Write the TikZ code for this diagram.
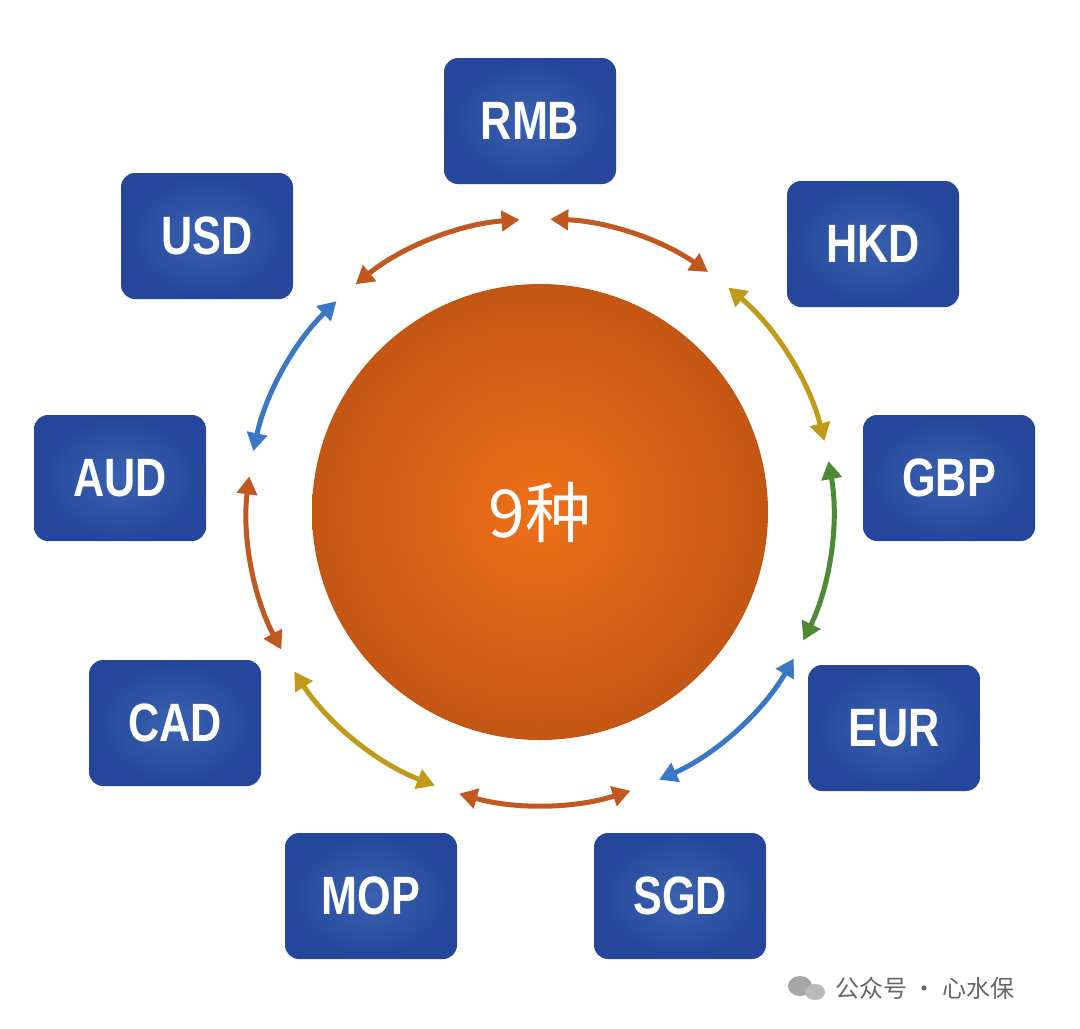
\documentclass[tikz,border=0pt]{standalone}
\usepackage{fontspec}
\setmainfont{Liberation Sans}[FakeStretch=0.8]
\newfontfamily\cjk{Noto Sans CJK SC}
\usetikzlibrary{arrows.meta,shadings}
\definecolor{bxin}{HTML}{3A62B0}
\definecolor{bxout}{HTML}{25469A}
\definecolor{orA}{HTML}{C0581F}
\definecolor{gold}{HTML}{C09A18}
\definecolor{grn}{HTML}{4E8A35}
\definecolor{blu}{HTML}{3A78C6}
\begin{document}
\begin{tikzpicture}[x=1pt,y=-1pt,
  box/.style={rectangle,rounded corners=14pt,minimum width=172pt,minimum height=126pt,
    inner color=bxin,outer color=bxout,text=white,font=\bfseries\fontsize{54}{54}\selectfont},
  arr/.style={line width=5pt,{Triangle[length=18pt,width=20pt]}-{Triangle[length=18pt,width=20pt]}}]
\useasboundingbox (0,0) rectangle (1080,1029);
\fill[white] (0,0) rectangle (1080,1029);
\shade[inner color={rgb,255:red,238;green,112;blue,24},outer color={rgb,255:red,196;green,86;blue,20}] (540,512) circle (228);
\node[text=white,font=\cjk\fontsize{66}{66}\selectfont] (c) at (540,512) {9种};
\node[box] (rmb) at (530,121) {RMB};
\node[box] (usd) at (207,236) {USD};
\node[box] (hkd) at (873,244) {HKD};
\node[box] (aud) at (120,478) {AUD};
\node[box] (gbp) at (949,478) {GBP};
\node[box] (cad) at (175,723) {CAD};
\node[box] (eur) at (894,728) {EUR};
\node[box] (mop) at (371,896) {MOP};
\node[box] (sgd) at (680,896) {SGD};
\def\R{293}
\draw[arr,orA] ([shift={(-88:\R)}]540,512) arc[start angle=-88,end angle=-55,radius=\R];
\draw[arr,orA] ([shift={(-129:\R)}]540,512) arc[start angle=-129,end angle=-94,radius=\R];
\draw[arr,gold] ([shift={(-50:\R)}]540,512) arc[start angle=-50,end angle=-14,radius=\R];
\draw[arr,grn] ([shift={(-10:\R)}]540,512) arc[start angle=-10,end angle=26,radius=\R];
\draw[arr,blu] ([shift={(30:\R)}]540,512) arc[start angle=30,end angle=66,radius=\R];
\draw[arr,orA] ([shift={(72:\R)}]540,512) arc[start angle=72,end angle=106,radius=\R];
\draw[arr,gold] ([shift={(111:\R)}]540,512) arc[start angle=111,end angle=147,radius=\R];
\draw[arr,orA] ([shift={(152:\R)}]540,512) arc[start angle=152,end angle=187,radius=\R];
\draw[arr,blu] ([shift={(192:\R)}]540,512) arc[start angle=192,end angle=226,radius=\R];
% watermark
\fill[gray!70] (800,986) ellipse (12 and 10);
\fill[gray!55] (815,992) ellipse (10 and 8);
\node[anchor=west,text=gray!80!black,font=\cjk\fontsize{24}{24}\selectfont] (wm) at (832,988) {公众号 · 心水保};
\end{tikzpicture}
\end{document}
